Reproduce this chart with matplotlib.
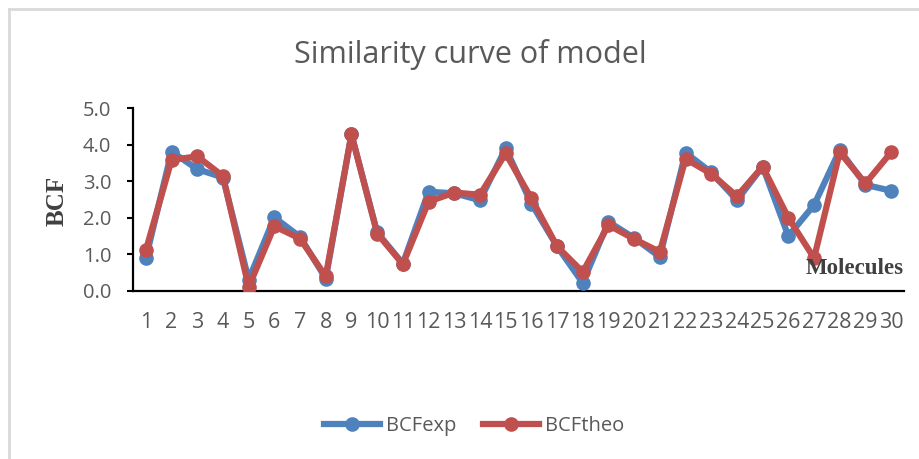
import matplotlib
matplotlib.use("Agg")
import matplotlib.pyplot as plt
from matplotlib.lines import Line2D

molecules = list(range(1, 31))
bcf_exp = [0.89, 3.81, 3.33, 3.10, 0.31, 2.01, 1.48, 0.34, 4.28, 1.60,
           0.75, 2.71, 2.67, 2.48, 3.90, 2.39, 1.22, 0.22, 1.89, 1.45,
           0.93, 3.78, 3.24, 2.48, 3.40, 1.50, 2.35, 3.85, 2.90, 2.74]
bcf_theo = [1.11, 3.58, 3.68, 3.14, 0.11, 1.77, 1.43, 0.40, 4.28, 1.57,
            0.73, 2.44, 2.69, 2.63, 3.76, 2.53, 1.22, 0.52, 1.80, 1.42,
            1.07, 3.61, 3.20, 2.59, 3.40, 2.00, 0.90, 3.79, 2.94, 3.79]
y_ticks = [0, 1, 2, 3, 4, 5]

blue = "#4F81BD"
red = "#C0504D"
gray = "#595959"
font = "Open Sans"

fig = plt.figure(figsize=(9.19, 4.59), dpi=100)
ax = fig.add_axes([133/919, 1-291/459, (904-133)/919, (291-108)/459])

ax.plot(molecules, bcf_exp, color=blue, lw=4.5, marker="o", ms=9.5, label="BCFexp",
        solid_joinstyle="round", zorder=3)
ax.plot(molecules, bcf_theo, color=red, lw=4.5, marker="o", ms=9.5, label="BCFtheo",
        solid_joinstyle="round", zorder=4)

ax.set_xlim(0.5, 30.5)
ax.set_ylim(0, 5)
ax.set_xticks(molecules)
ax.set_xticklabels([str(m) for m in molecules])
ax.set_yticks(y_ticks)
ax.set_yticklabels([f"{v:.1f}" for v in y_ticks])
for s in ["top", "right"]:
    ax.spines[s].set_visible(False)
for s in ["left", "bottom"]:
    ax.spines[s].set_linewidth(1.6)
    ax.spines[s].set_color("black")
ax.tick_params(axis="x", length=0, pad=15, labelsize=15.5, labelcolor=gray)
ax.tick_params(axis="y", length=4.5, width=1.5, direction="out", pad=11,
               labelsize=14.5, labelcolor=gray)
for lbl in ax.get_xticklabels() + ax.get_yticklabels():
    lbl.set_fontfamily(font)

fig.text(470/919, 1-55/459, "Similarity curve of model", ha="center", va="center",
         fontsize=22, color=gray, family=font)
fig.text(57/919, 1-201/459, "BCF", rotation=90, ha="center", va="center",
         fontsize=18, fontweight="bold", color="#404040", family="Liberation Serif")
fig.text(855/919, 1-268/459, "Molecules", ha="center", va="center",
         fontsize=16.5, fontweight="bold", color="#404040", family="Liberation Serif")

handles = [Line2D([], [], color=blue, lw=4.5, marker="o", ms=9.5),
           Line2D([], [], color=red, lw=4.5, marker="o", ms=9.5)]
leg = fig.legend(handles, ["BCFexp", "BCFtheo"], loc="center", bbox_to_anchor=(474/919, 1-426/459),
                 ncol=2, frameon=False, handlelength=2.8, columnspacing=1.3, handletextpad=0.3,
                 prop={"family": font, "size": 14.5})
for t in leg.get_texts():
    t.set_color(gray)

# chart area border (left and top)
fig.add_artist(Line2D([9/919, 9/919], [0, 1-9/459], transform=fig.transFigure, color="#d9d9d9", lw=2))
fig.add_artist(Line2D([9/919, 1], [1-9/459, 1-9/459], transform=fig.transFigure, color="#d9d9d9", lw=2))

fig.savefig("out.png", dpi=100)
